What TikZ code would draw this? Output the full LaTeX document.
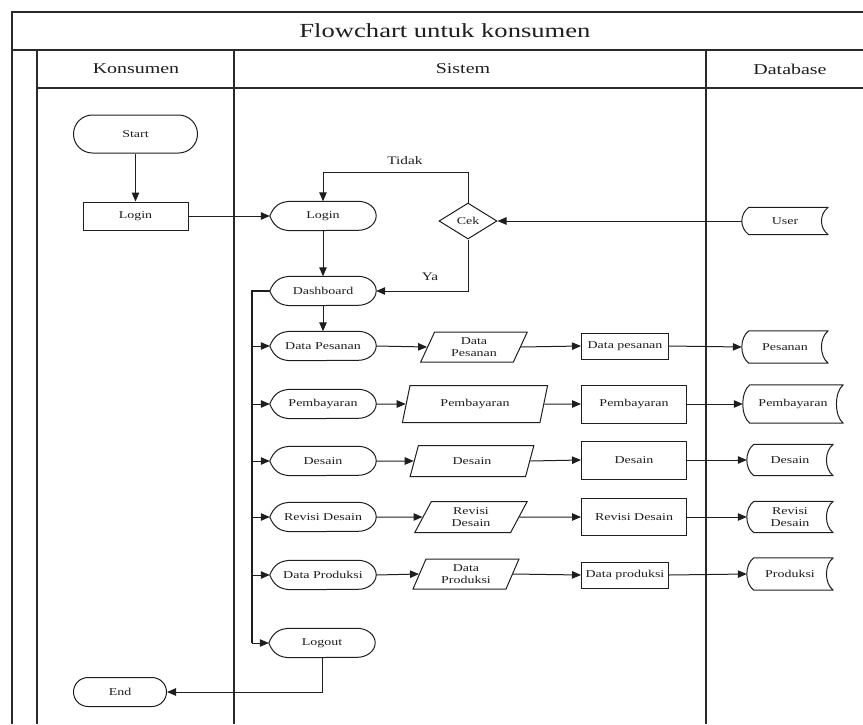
\documentclass[tikz,border=0pt]{standalone}
\usepackage{fontspec}
\setmainfont{Liberation Serif}[FakeStretch=1.33]
\usetikzlibrary{shapes.geometric,shapes.misc,arrows.meta,calc}

\definecolor{ink}{HTML}{1E1E1E}
\definecolor{lane}{HTML}{2A2A2A}

% outline of a "display" symbol drawn around a plain node
\newcommand\dispoutline[1]{%
  \draw[shp] (#1.west)
    .. controls ($(#1.west)+(4pt,10pt)$) and ($(#1.north west)+(10pt,0pt)$) .. ($(#1.north west)+(22pt,0pt)$)
    -- ($(#1.north east)+(-18pt,0pt)$)
    arc[start angle=90, end angle=-90, x radius=18pt, y radius=14.5pt]
    -- ($(#1.south west)+(22pt,0pt)$)
    .. controls ($(#1.south west)+(10pt,0pt)$) and ($(#1.west)+(4pt,-10pt)$) .. (#1.west) -- cycle;}

% outline of a "stored data" symbol drawn around a plain node
\newcommand\storeoutline[1]{%
  \draw[shp, line join=round] ($(#1.north west)+(7pt,0pt)$) -- (#1.north east)
    .. controls ($(#1.north east)+(-9pt,-7pt)$) and ($(#1.south east)+(-9pt,7pt)$) .. (#1.south east)
    -- ($(#1.south west)+(7pt,0pt)$)
    .. controls ($(#1.south west)+(-2.3pt,7pt)$) and ($(#1.north west)+(-2.3pt,-7pt)$) .. ($(#1.north west)+(7pt,0pt)$);}

\begin{document}
\begin{tikzpicture}[x=1pt,y=-1pt,
  every node/.style={text=ink, font=\fontsize{10.5}{12}\selectfont, inner sep=0pt, align=center},
  shp/.style={draw=ink, line width=1pt},
  wire/.style={draw=ink, line width=1pt},
  conn/.style={wire, -{Triangle[length=9pt,width=7.5pt]}},
  busline/.style={draw=ink, line width=1.8pt},
  lanes/.style={draw=lane, line width=1.5pt},
  term/.style={rounded rectangle, shp},
  box/.style={rectangle, shp},
  io/.style={trapezium, trapezium left angle=67, trapezium right angle=113, trapezium stretches=true, shp},
  dec/.style={diamond, aspect=1.6, shp},
  disp/.style={minimum width=106pt, minimum height=29pt},
  store/.style={minimum width=86pt},
  lbl/.style={font=\fontsize{11.5}{13}\selectfont}
]
\useasboundingbox (0,0) rectangle (863,724);

% swimlane frame
\draw[lanes] (863,12) -- (12,12) -- (12,724);
\draw[lanes] (12,50) -- (863,50);
\draw[lanes] (37,50) -- (37,724);
\draw[lanes] (37,88) -- (863,88);
\draw[lanes] (234,50) -- (234,724);
\draw[lanes] (706,50) -- (706,724);

\node[font=\fontsize{20}{24}\selectfont] (title) at (445,31) {Flowchart untuk konsumen};
\node[font=\fontsize{15}{18}\selectfont] (hk) at (136,69) {Konsumen};
\node[font=\fontsize{15}{18}\selectfont] (hs) at (463,69) {Sistem};
\node[font=\fontsize{15}{18}\selectfont] (hd) at (790,69) {Database};

% Konsumen lane
\node[term, minimum width=124pt, minimum height=38pt] (start) at (135.5,134) {Start};
\node[box, minimum width=105pt, minimum height=28pt] (lk) at (135.5,216) {Login};
\node[term, minimum width=93pt, minimum height=29pt] (end) at (120,692) {End};

% Sistem lane
\node[disp] (ls) at (323,216) {Login};
\node[dec, minimum width=58pt, minimum height=36pt] (cek) at (468,221) {Cek};
\node[disp] (dash) at (323,291) {Dashboard};
\node[disp] (o1) at (323,346) {Data Pesanan};
\node[disp] (o2) at (323,404) {Pembayaran};
\node[disp] (o3) at (323,461) {Desain};
\node[disp] (o4) at (323,517) {Revisi Desain};
\node[disp] (o5) at (323,575) {Data Produksi};
\node[disp] (lo) at (322,643) {Logout};
\foreach \n in {ls,dash,o1,o2,o3,o4,o5,lo} {\dispoutline{\n}}

\node[io, minimum width=107pt, minimum height=30pt] (p1) at (474,347) {Data\\Pesanan};
\node[io, minimum width=146pt, minimum height=37pt] (p2) at (475,404) {Pembayaran};
\node[io, minimum width=124pt, minimum height=31pt] (p3) at (472,461) {Desain};
\node[io, minimum width=113pt, minimum height=31pt] (p4) at (471,517) {Revisi\\Desain};
\node[io, minimum width=106pt, minimum height=30pt] (p5) at (466,574) {Data\\Produksi};

\node[box, minimum width=87pt, minimum height=26pt] (r1) at (625,346) {Data pesanan};
\node[box, minimum width=105pt, minimum height=38pt] (r2) at (634,404) {Pembayaran};
\node[box, minimum width=105pt, minimum height=38pt] (r3) at (634,460) {Desain};
\node[box, minimum width=105pt, minimum height=37pt] (r4) at (634,517) {Revisi Desain};
\node[box, minimum width=87pt, minimum height=26pt] (r5) at (625,575) {Data produksi};

% Database lane
\node[store, minimum height=27pt] (user) at (785,221) {User};
\node[store, minimum height=32pt] (d1) at (785,347) {Pesanan};
\node[store, minimum width=100pt, minimum height=38pt] (d2) at (793,404) {Pembayaran};
\node[store, minimum height=31pt] (d3) at (790,460) {Desain};
\node[store, minimum height=31pt] (d4) at (790,517) {Revisi\\Desain};
\node[store, minimum height=32pt] (d5) at (790,574) {Produksi};
\foreach \n in {user,d1,d2,d3,d4,d5} {\storeoutline{\n}}

% connectors
\draw[conn] (start.south) -- (lk.north);
\draw[conn] (lk.east) -- (ls.west);
\draw[conn] (user.west) -- (cek.east);
\coordinate (tk) at (323,172);
\draw[conn] (cek.north) |- (tk) -- (ls.north);
\node[lbl] (tidak) at (405,161) {Tidak};
\draw[conn] (ls.south) -- (dash.north);
\draw[conn] (cek.south) |- (dash.east);
\node[lbl] (ya) at (430,277) {Ya};
\draw[conn] (dash.south) -- (o1.north);

\coordinate (bus) at (252,291);
\draw[busline] (dash.west) -| (bus |- lo.west);
\foreach \n in {o1,o2,o3,o4,o5,lo} {\draw[conn] (bus |- \n.west) -- (\n.west);}

\foreach \i in {1,...,5} {
  \draw[conn] (o\i.east) -- (p\i.west);
  \draw[conn] (p\i.east) -- (r\i.west);
  \draw[conn] (r\i.east) -- (d\i.west);
}
\draw[conn] (lo.south) |- (end.east);
\end{tikzpicture}
\end{document}
